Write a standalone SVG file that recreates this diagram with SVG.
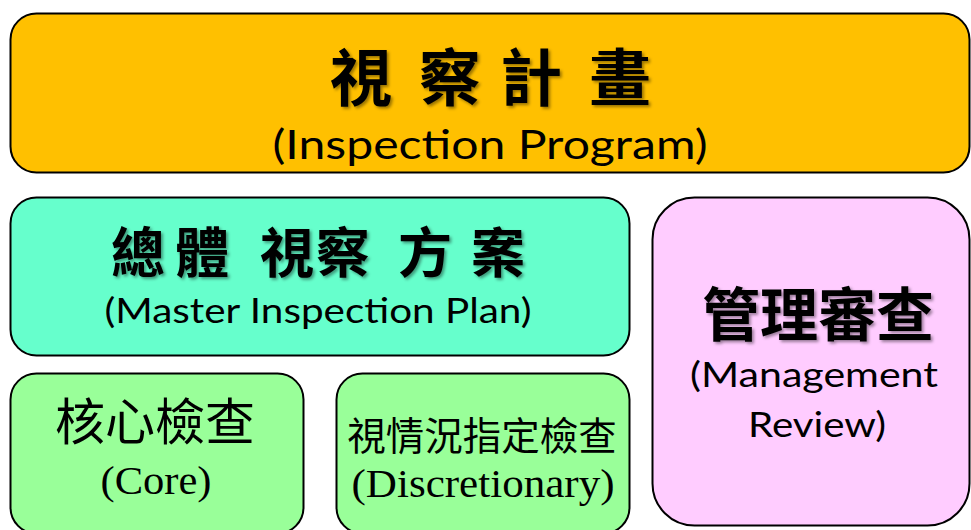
<svg xmlns="http://www.w3.org/2000/svg" width="971" height="530" viewBox="0 0 971 530">
<defs>
<style>
.box{stroke:#000;stroke-width:2}
.cjkb{font-family:"Noto Sans CJK TC","Noto Sans CJK SC",sans-serif;font-weight:bold;fill:#000;text-anchor:middle}
.cjk{font-family:"Noto Sans CJK TC","Noto Sans CJK SC",sans-serif;fill:#000;text-anchor:middle}
.en{font-family:Lato,"Open Sans","Liberation Sans",sans-serif;fill:#000;text-anchor:middle}
.ser{font-family:"Liberation Serif",serif;fill:#000;text-anchor:middle}
</style>
<filter id="sh" x="-10%" y="-10%" width="130%" height="140%">
<feDropShadow dx="2" dy="2" stdDeviation="1.5" flood-color="#000" flood-opacity="0.4"/>
</filter>
</defs>
<g id="program">
<rect class="box" x="10.5" y="13.5" width="959" height="159" rx="26" fill="#FFC000"/>
<text class="cjkb" y="101" font-size="62" filter="url(#sh)"><tspan x="361">視</tspan><tspan x="450">察</tspan><tspan x="531">計</tspan><tspan x="620">畫</tspan></text>
<text class="en" x="490" y="159" font-size="41" textLength="435" lengthAdjust="spacingAndGlyphs">(Inspection Program)</text>
</g>
<g id="master">
<rect class="box" x="10.5" y="197.5" width="619" height="158" rx="26" fill="#66FFCC"/>
<text class="cjkb" y="273" font-size="54" filter="url(#sh)"><tspan x="138">總</tspan><tspan x="202">體</tspan><tspan x="287">視</tspan><tspan x="343">察</tspan><tspan x="425">方</tspan><tspan x="498">案</tspan></text>
<text class="en" x="318" y="323" font-size="34" textLength="427" lengthAdjust="spacingAndGlyphs">(Master Inspection Plan)</text>
</g>
<g id="management">
<rect class="box" x="652.5" y="197.5" width="317" height="328" rx="42" fill="#FFCCFF"/>
<text class="cjkb" x="818" y="336" font-size="58" filter="url(#sh)">管理審查</text>
<text class="en" x="814" y="387" font-size="35" textLength="248" lengthAdjust="spacingAndGlyphs">(Management</text>
<text class="en" x="817" y="437" font-size="35" textLength="138" lengthAdjust="spacingAndGlyphs">Review)</text>
</g>
<g id="core">
<rect class="box" x="10.5" y="373.5" width="293" height="160" rx="26" fill="#99FF99"/>
<text class="cjk" x="155" y="440" font-size="50">核心檢查</text>
<text class="ser" x="156" y="494" font-size="40" textLength="111" lengthAdjust="spacingAndGlyphs">(Core)</text>
</g>
<g id="discretionary">
<rect class="box" x="336.5" y="373.5" width="293" height="160" rx="26" fill="#99FF99"/>
<text class="cjk" x="482" y="450" font-size="38.5">視情況指定檢查</text>
<text class="ser" x="483" y="497" font-size="40" textLength="263" lengthAdjust="spacingAndGlyphs">(Discretionary)</text>
</g>
<g id="connectors"/>
</svg>
